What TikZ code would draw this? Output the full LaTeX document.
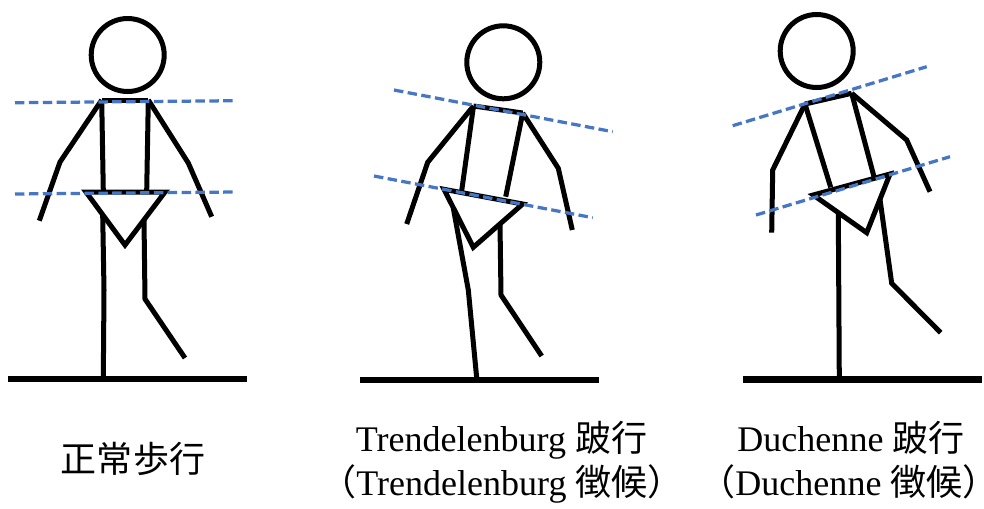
\documentclass[tikz,border=0pt]{standalone}
\usepackage{fontspec}
\setmainfont{Liberation Serif}
\newfontfamily\cjk{Noto Sans CJK JP}
\usetikzlibrary{positioning}
\definecolor{levelblue}{RGB}{70, 118, 196}
\tikzset{
  limb/.style={line width=2.85pt, black},
  groundline/.style={line width=3.8pt, black},
  levelline/.style={line width=1.85pt, levelblue, dash pattern=on 5.4pt off 2.5pt},
  headcircle/.style={circle, draw, line width=2.85pt, minimum size=1.46cm, inner sep=0pt},
  caption/.style={font=\fontsize{20.5}{25.6}\selectfont, anchor=base, inner sep=0pt}
}
% full-width brackets without their blank half
\newcommand{\lbr}{\kern-0.55em{\cjk （}}
\newcommand{\rbr}{{\cjk ）}\kern-0.55em}

\begin{document}
\begin{tikzpicture}[x=0.02cm, y=-0.02cm]
    \useasboundingbox (0,0) rectangle (984,508);

    % Normal gait
    \node[headcircle] (nhead) at (127.7, 55) {};
    \coordinate (nsL) at (101.7, 100);   \coordinate (nsR) at (148.3, 100);
    \coordinate (ntL) at (103.3, 191);   \coordinate (ntR) at (146.7, 191);
    \coordinate (nhL) at (86, 192);      \coordinate (nhR) at (165, 192);
    \coordinate (ncr) at (125, 245);
    \coordinate (neL) at (60, 162);      \coordinate (nwL) at (39.3, 220.7);
    \coordinate (neR) at (188.3, 163);   \coordinate (nwR) at (211.7, 216.7);
    \coordinate (nlL) at (102.7, 215);   \coordinate (nkL) at (104, 290);   \coordinate (nfL) at (103.3, 378);
    \coordinate (nlR) at (144, 220);     \coordinate (nkR) at (145, 299);   \coordinate (nfR) at (185, 358);
    \coordinate (ng1) at (8.3, 379);     \coordinate (ng2) at (246.7, 379);

    \draw[limb] (nsL) -- (nsR);
    \draw[limb] (nsL) -- (ntL);
    \draw[limb] (nsR) -- (ntR);
    \draw[limb] (nhL) -- (nhR) -- (ncr) -- cycle;
    \draw[limb] (nsL) -- (neL) -- (nwL);
    \draw[limb] (nsR) -- (neR) -- (nwR);
    \draw[limb] (nlL) -- (nkL) -- (nfL);
    \draw[limb] (nlR) -- (nkR) -- (nfR);
    \draw[groundline] (ng1) -- (ng2);

    % Trendelenburg gait
    \node[headcircle] (thead) at (503.3, 62.3) {};
    \coordinate (tsL) at (473.5, 106);   \coordinate (tsR) at (522.7, 113);
    \coordinate (ttL) at (461.7, 190.7); \coordinate (ttR) at (505.7, 196.7);
    \coordinate (thL) at (444, 189.3);   \coordinate (thR) at (522.7, 204);
    \coordinate (tcr) at (473.3, 247.3);
    \coordinate (teL) at (427.7, 162.3); \coordinate (twL) at (406.7, 224);
    \coordinate (teR) at (558.3, 168.3); \coordinate (twR) at (572.3, 230);
    \coordinate (tlL) at (453.3, 208);   \coordinate (tkL) at (468.3, 290); \coordinate (tfL) at (476.7, 378);
    \coordinate (tlR) at (500, 224);     \coordinate (tkR) at (501, 295);   \coordinate (tfR) at (541.7, 356);
    \coordinate (tg1) at (360, 380);     \coordinate (tg2) at (599.3, 380);

    \draw[limb] (tsL) -- (tsR);
    \draw[limb] (tsL) -- (ttL);
    \draw[limb] (tsR) -- (ttR);
    \draw[limb] (thL) -- (thR) -- (tcr) -- cycle;
    \draw[limb] (tsL) -- (teL) -- (twL);
    \draw[limb] (tsR) -- (teR) -- (twR);
    \draw[limb] (tlL) -- (tkL) -- (tfL);
    \draw[limb] (tlR) -- (tkR) -- (tfR);
    \draw[groundline] (tg1) -- (tg2);

    % Duchenne gait
    \node[headcircle] (dhead) at (816.7, 51) {};
    \coordinate (dsL) at (805, 104);     \coordinate (dsR) at (851.7, 93.3);
    \coordinate (dtL) at (830.7, 187.3); \coordinate (dtR) at (874, 176.7);
    \coordinate (dhL) at (813.3, 195);   \coordinate (dhR) at (890, 174);
    \coordinate (dcr) at (866.7, 232.7);
    \coordinate (deL) at (772.7, 170);   \coordinate (dwL) at (771.7, 232.7);
    \coordinate (deR) at (906.7, 140);   \coordinate (dwR) at (930, 191.7);
    \coordinate (dlL) at (838.3, 212.6); \coordinate (dfL) at (839.3, 378);
    \coordinate (dlR) at (880, 199.5);   \coordinate (dkR) at (891.7, 283.3); \coordinate (dfR) at (940.7, 332.7);
    \coordinate (dg1) at (743.3, 379.3); \coordinate (dg2) at (981.7, 379.3);

    \draw[limb] (dsL) -- (dsR);
    \draw[limb] (dsL) -- (dtL);
    \draw[limb] (dsR) -- (dtR);
    \draw[limb] (dhL) -- (dhR) -- (dcr) -- cycle;
    \draw[limb] (dsL) -- (deL) -- (dwL);
    \draw[limb] (dsR) -- (deR) -- (dwR);
    \draw[limb] (dlL) -- (dfL);
    \draw[limb] (dlR) -- (dkR) -- (dfR);
    \draw[groundline] (dg1) -- (dg2);

    % Shoulder and pelvis levels
    \coordinate (nsa) at (15, 102.7);    \coordinate (nsb) at (236.7, 100.7);
    \coordinate (npa) at (15, 194);      \coordinate (npb) at (236.7, 192);
    \coordinate (tsa) at (394, 90);      \coordinate (tsb) at (612.7, 131.7);
    \coordinate (tpa) at (374, 176);     \coordinate (tpb) at (592.7, 217.7);
    \coordinate (dsa) at (732.7, 125.7); \coordinate (dsb) at (926.7, 66.7);
    \coordinate (dpa) at (756, 215);     \coordinate (dpb) at (950, 156.7);
    \draw[levelline] (nsa) -- (nsb);
    \draw[levelline] (npa) -- (npb);
    \draw[levelline] (tsa) -- (tsb);
    \draw[levelline] (tpa) -- (tpb);
    \draw[levelline] (dsa) -- (dsb);
    \draw[levelline] (dpa) -- (dpb);

    % Captions
    \node[caption] (ncap) at (133, 472.5) {\cjk 正常歩行};
    \node[caption] (tcap1) at (501.5, 451.7) {Trendelenburg {\cjk 跛行}};
    \node[caption] (tcap2) at (502, 495.5) {\lbr Trendelenburg {\cjk 徴候}\rbr};
    \node[caption] (dcap1) at (851, 451.7) {Duchenne {\cjk 跛行}};
    \node[caption] (dcap2) at (849, 495.5) {\lbr Duchenne {\cjk 徴候}\rbr};

\end{tikzpicture}
\end{document}
